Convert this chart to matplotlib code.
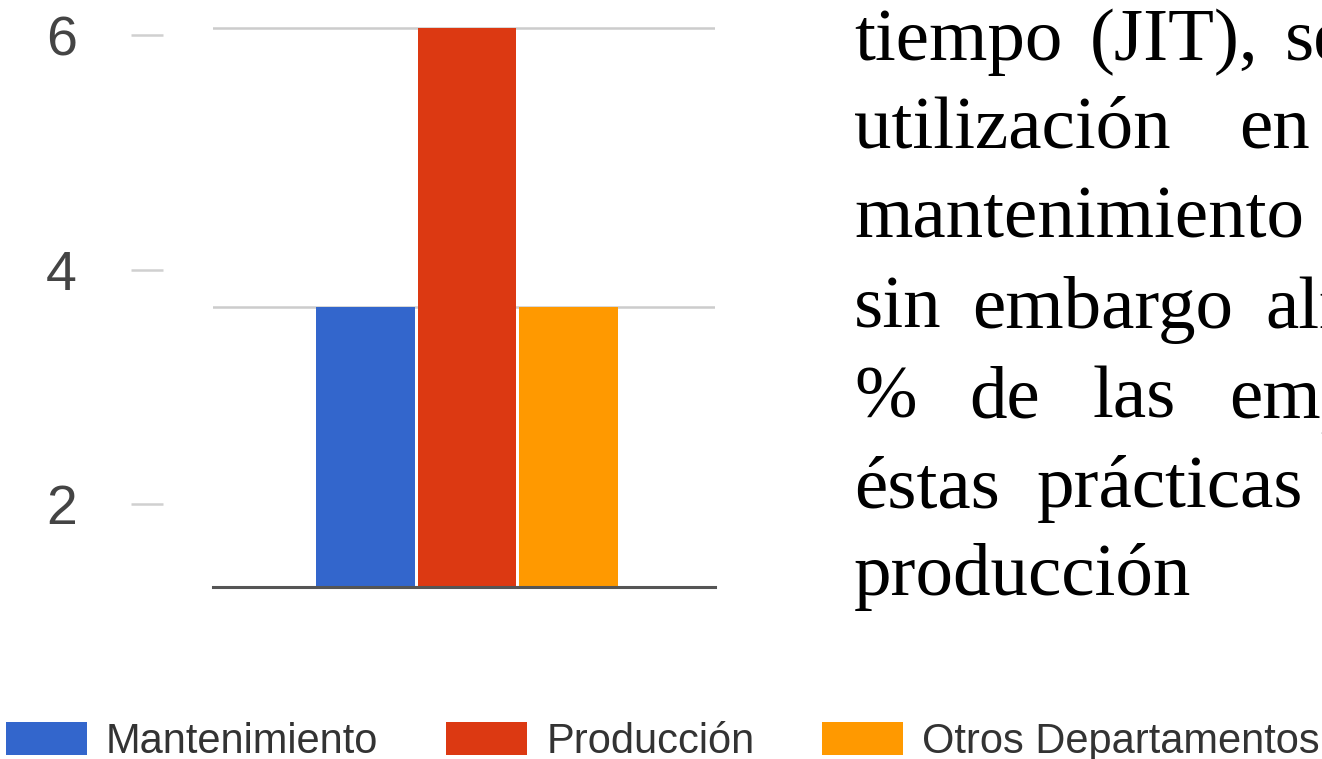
"""
Bar chart by department (Mantenimiento / Producción / Otros) with the
neighbouring paragraph text cut at the right edge.
"""
import matplotlib
matplotlib.use("Agg")
import matplotlib.pyplot as plt

# ---------------------------------------------------------------------------
# Data
# ---------------------------------------------------------------------------
series = ["Mantenimiento", "Producción", "Otros Departamentos"]
values = [3, 6, 3]
colors = ["#3366CC", "#DC3912", "#FF9900"]
grid_values = [3, 6]
tick_labels = [2, 4, 6]

# paragraph text beside the chart, line by line
text_lines = [
    ["tiempo", "(JIT),", "se"],
    ["utilización", "en"],
    ["mantenimiento"],
    ["sin", "embargo", "alrededor"],
    ["%", "de", "las", "empresas"],
    ["éstas", "prácticas"],
    ["producción"],
]

# ---------------------------------------------------------------------------
# Layout (pixel based, figure is 1322 x 759)
# ---------------------------------------------------------------------------
W, H = 1322, 759
fig = plt.figure(figsize=(W / 100, H / 100), dpi=100)

ax_left, ax_right = 213, 715
ax_top, ax_bottom = 26, 587
pos = [ax_left / W, 1 - ax_bottom / H,
       (ax_right - ax_left) / W, (ax_bottom - ax_top) / H]

ax = fig.add_axes(pos)
xs = [-1, 0, 1]
bars = ax.bar(xs, values, width=0.97, color=colors, zorder=2)
ax.set_xlim(-2.50, 2.44)
ax.set_ylim(0, 6.02)
ax.set_yticks(grid_values)
ax.set_xticks([])
ax.tick_params(axis="y", length=0, labelleft=False)
ax.grid(axis="y", color="#cccccc", linewidth=1.8, zorder=0)
ax.set_axisbelow(True)
for side in ["top", "left", "right"]:
    ax.spines[side].set_visible(False)
ax.spines["bottom"].set_color("#555555")
ax.spines["bottom"].set_linewidth(2.2)
ax.spines["bottom"].set_zorder(3)

# separate (offset) value axis, as in the screenshot
k = (504 - 35) / 4.0
y0 = 2 - (ax_bottom - 504) / k
y1 = y0 + (ax_bottom - ax_top) / k
ax2 = fig.add_axes(pos, frameon=False)
ax2.set_ylim(y0, y1)
ax2.set_xticks([])
ax2.set_yticks(tick_labels)
ax2.set_yticklabels([str(t) for t in tick_labels])
ax2.spines["left"].set_visible(True)
ax2.spines["left"].set_position(("outward", (ax_left - 131) * 0.72))
ax2.spines["left"].set_color("none")
ax2.tick_params(axis="y", direction="in", length=32 * 0.72, width=1.8,
                color="#d0d0d0", pad=39, labelsize=40, labelcolor="#444444")
for lab in ax2.get_yticklabels():
    lab.set_family("Liberation Sans")

# legend along the bottom
leg = fig.legend(bars, series, loc="lower left", bbox_to_anchor=(6 / W, -3 / H),
                 ncol=3, frameon=False, borderpad=0, borderaxespad=0,
                 handlelength=1.94, handleheight=0.86, handletextpad=0.46,
                 columnspacing=1.63,
                 prop={"family": "Liberation Sans", "size": 30})
for t in leg.get_texts():
    t.set_color("#333333")

# paragraph text (justified words, cut by the figure edge)
line_baselines = [60, 148, 238, 328, 418, 507, 595]
word_x = [
    [857, 1093, 1288],
    [857, 1242],
    [857],
    [857, 975, 1268],
    [857, 972, 1095, 1232],
    [857, 1040],
    [857],
]
for words, xs_px, base in zip(text_lines, word_x, line_baselines):
    for w, xp in zip(words, xs_px):
        fig.text((xp - 3) / W, 1 - base / H, w, ha="left", va="baseline",
                 family="Liberation Serif", fontsize=54, color="black")

fig.savefig("out.png", dpi=100)
